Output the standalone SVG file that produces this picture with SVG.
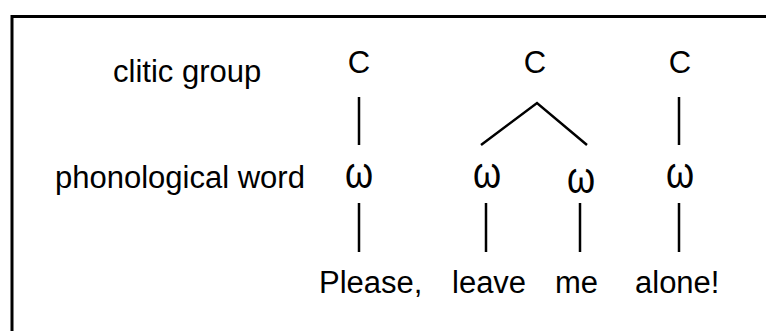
<svg xmlns="http://www.w3.org/2000/svg" width="766" height="331" viewBox="0 0 766 331">
<style>
text{font-family:"Liberation Sans",Arial,sans-serif;font-size:31px;fill:#000}
.n{text-anchor:middle}
.w{font-size:36px}
.e{stroke:#000;stroke-width:2.5;fill:none}
</style>
<rect width="766" height="331" fill="#fff"/>
<path d="M12,331 V16.5 H766" stroke="#000" stroke-width="3" fill="none"/>
<g id="labels">
<text x="113" y="82">clitic group</text>
<text x="55" y="188">phonological word</text>
</g>
<g id="c1"><text class="n" x="359" y="73">C</text></g>
<g id="c2"><text class="n" x="535" y="73">C</text></g>
<g id="c3"><text class="n" x="680" y="73">C</text></g>
<g id="w1"><text class="n w" transform="translate(359,188) scale(1,1.25)">ω</text></g>
<g id="w2"><text class="n w" transform="translate(487,188) scale(1,1.25)">ω</text></g>
<g id="w3"><text class="n w" transform="translate(581,193) scale(1,1.25)">ω</text></g>
<g id="w4"><text class="n w" transform="translate(680,188) scale(1,1.25)">ω</text></g>
<g id="t1"><text x="319" y="293">Please,</text></g>
<g id="t2"><text x="452" y="293">leave</text></g>
<g id="t3"><text x="555" y="293">me</text></g>
<g id="t4"><text x="635" y="293">alone!</text></g>
<g id="connectors" class="e">
<line class="e" x1="359" y1="97" x2="359" y2="145"/>
<polyline class="e" points="481,145 537,103 587,145"/>
<line class="e" x1="679" y1="97" x2="679" y2="145"/>
<line class="e" x1="359" y1="203" x2="359" y2="252"/>
<line class="e" x1="486" y1="203" x2="486" y2="252"/>
<line class="e" x1="580" y1="203" x2="580" y2="252"/>
<line class="e" x1="679" y1="203" x2="679" y2="252"/>
</g>
</svg>
